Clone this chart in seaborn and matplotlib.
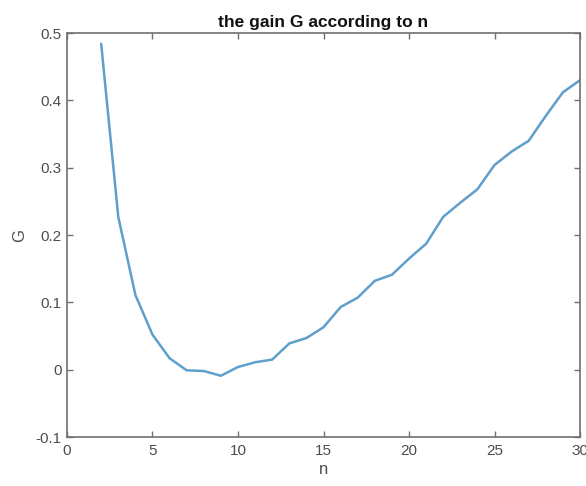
import numpy as np
import pandas as pd
import seaborn as sns
import matplotlib
matplotlib.use("Agg")
import matplotlib.pyplot as plt

# values
n_values = list(range(2, 31))
gain_values = [0.484, 0.227, 0.111, 0.052, 0.017, -0.001, -0.002, -0.009, 0.004,
               0.011, 0.015, 0.039, 0.047, 0.063, 0.093, 0.107, 0.132, 0.141,
               0.165, 0.187, 0.227, 0.248, 0.268, 0.304, 0.324, 0.340, 0.377,
               0.412, 0.430]

x_ticks = [0, 5, 10, 15, 20, 25, 30]
y_ticks = [-0.1, 0, 0.1, 0.2, 0.3, 0.4, 0.5]
y_tick_labels = ["-0.1", "0", "0.1", "0.2", "0.3", "0.4", "0.5"]

gain_df = pd.DataFrame({"n": n_values, "G": gain_values})

sns.set_theme(style="white")
plt.rcParams['font.family'] = ['Liberation Sans', 'DejaVu Sans']

fig = plt.figure(figsize=(5.86, 4.86), dpi=100)
ax = fig.add_axes([0.1143, 0.1008, 0.8755, 0.8312])

sns.lineplot(x="n", y="G", data=gain_df, ax=ax, color="#5f9fcb", linewidth=1.8)

ax.set_xlim(0, 30)
ax.set_ylim(-0.1, 0.5)
ax.set_xticks(x_ticks)
ax.set_yticks(y_ticks)
ax.set_yticklabels(y_tick_labels)

grey = "#4d4d4d"
for side in ax.spines.values():
    side.set_visible(True)
    side.set_color("#707070")
    side.set_linewidth(1.2)
ax.tick_params(direction="in", length=4, width=1, color="#707070",
               labelcolor=grey, labelsize=11, top=True, right=True,
               bottom=True, left=True)
ax.tick_params(axis="x", pad=5)
ax.tick_params(axis="y", pad=4)

ax.set_title("the gain G according to n", fontsize=12.5, fontweight="bold", color="#111111", pad=4)
ax.set_xlabel("n", fontsize=12, color=grey, labelpad=3)
ax.set_ylabel("G", fontsize=12, color=grey, labelpad=6)

fig.savefig("out.png", dpi=100)
